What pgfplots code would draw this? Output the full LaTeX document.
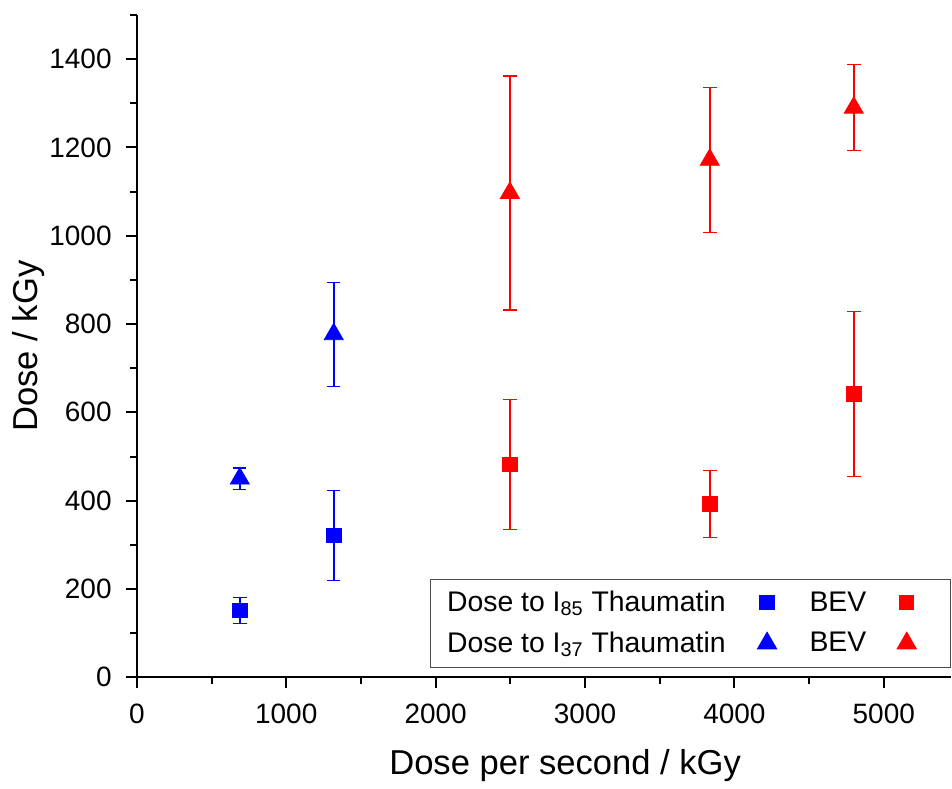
\documentclass[border=0pt]{standalone}
\usepackage{fontspec}
\setmainfont{Liberation Sans}
\usepackage{pgfplots}
\pgfplotsset{compat=1.18}
\begin{document}
\begin{tikzpicture}
\begin{axis}[
    scale only axis,
    width=407.5pt, height=331.5pt,
    xmin=0, xmax=5450, ymin=0, ymax=1500,
    axis lines*=left,
    axis line style={line width=1pt},
    tick align=outside, tick pos=left,
    xtick={0,1000,...,5000}, minor xtick={500,1500,...,4500},
    ytick={0,200,...,1400}, minor ytick={100,300,...,1500},
    major tick length=5.5pt, minor tick length=3.5pt,
    every tick/.style={black, line width=1pt},
    tick label style={font=\fontsize{14}{16}\selectfont},
    xticklabel style={yshift=-4.5pt},
    yticklabel style={xshift=-3.6pt},
    /pgf/number format/assume math mode=true,
    /pgf/number format/1000 sep={},
    xlabel={Dose per second / kGy},
    ylabel={Dose / kGy},
    label style={font=\fontsize{17.3}{20}\selectfont},
    xlabel style={at={(axis description cs:0.526,-0.1463)}, anchor=base},
    ylabel style={at={(axis description cs:-0.1215,0.5)}, anchor=base},
    legend plot pos=right,
    legend columns=2,
    legend image code/.code={\draw[#1] plot coordinates {(0pt,0pt)}; \path (-5pt,0pt) (13pt,0pt);},
    legend style={at={(axis cs:5448,22)}, anchor=south east,
        draw=black!70, line width=0.5pt,
        font=\fontsize{14.2}{17}\selectfont,
        inner xsep=8.5pt, inner ysep=6pt,
        nodes={inner sep=0pt},
        row sep=8.5pt,
        /tikz/column 1/.style={column sep=15.5pt},
        /tikz/column 2/.style={column sep=8pt},
        /tikz/column 3/.style={column sep=15pt}},
]
\addplot[only marks, mark=square*, blue, mark size=3.6pt,
    error bars/.cd, y dir=both, y explicit,
    error bar style={line width=0.8pt, blue},
    error mark options={rotate=90, mark size=3.3pt, line width=0.6pt, blue}]
    coordinates {(690,151) +- (0,30) (1318,321) +- (0,102)};
\addlegendentry{Dose to I\textsubscript{85} Thaumatin}
\addplot[only marks, mark=square*, red, mark size=3.6pt,
    error bars/.cd, y dir=both, y explicit,
    error bar style={line width=0.8pt, red},
    error mark options={rotate=90, mark size=3.6pt, line width=0.6pt, red}]
    coordinates {(2497,482) +- (0,147) (3835,393) +- (0,76) (4799,642) +- (0,187)};
\addlegendentry{BEV}
\addplot[only marks, mark=triangle*, blue, mark size=5.5pt,
    error bars/.cd, y dir=both, y explicit,
    error bar style={line width=0.8pt, blue},
    error mark options={rotate=90, mark size=3.3pt, line width=0.6pt, blue}]
    coordinates {(689,450) +- (0,24) (1318,777) +- (0,118)};
\addlegendentry{Dose to I\textsubscript{37} Thaumatin}
\addplot[only marks, mark=triangle*, red, mark size=5.5pt,
    error bars/.cd, y dir=both, y explicit,
    error bar style={line width=0.8pt, red},
    error mark options={rotate=90, mark size=3.6pt, line width=0.6pt, red}]
    coordinates {(2497,1097) +- (0,265) (3835,1172) +- (0,164) (4799,1290) +- (0,97)};
\addlegendentry{BEV}
\end{axis}
\path ([yshift=7.5pt]current axis.north) ([xshift=-68.5pt]current axis.west);
\end{tikzpicture}
\end{document}
